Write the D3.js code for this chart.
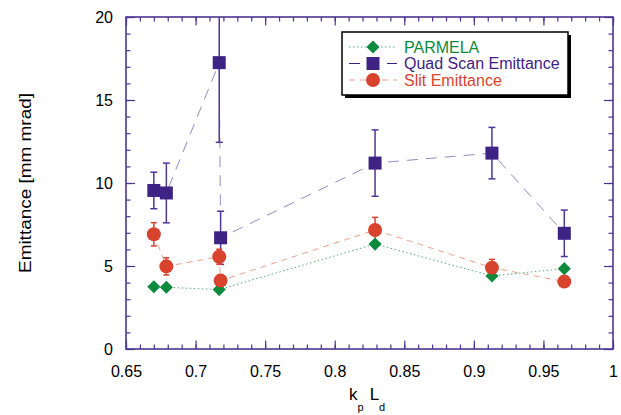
<!DOCTYPE html>
<html>
<head>
<meta charset="utf-8">
<script src="https://cdn.jsdelivr.net/npm/d3@7"></script>
<style>
  body { margin: 0; background: #fff; }
  svg { display: block; font-family: Arial, "Liberation Sans", Helvetica, sans-serif; }
</style>
</head>
<body>
<div id="chart"></div>
<script>
// emittance vs kp*Ld: simulation, quad-scan and slit measurements

const parmelaX = [0.670, 0.679, 0.717, 0.829, 0.913, 0.965];
const parmelaY = [3.75, 3.72, 3.58, 6.32, 4.40, 4.84];

const quadX = [0.670, 0.679, 0.717, 0.718, 0.829, 0.913, 0.965];
const quadY = [9.55, 9.40, 17.25, 6.70, 11.20, 11.80, 6.97];
const quadErr = [1.10, 1.80, 4.80, 1.60, 2.00, 1.55, 1.40];

const slitX = [0.670, 0.679, 0.717, 0.718, 0.829, 0.913, 0.965];
const slitY = [6.91, 4.98, 5.56, 4.12, 7.17, 4.90, 4.06];
const slitErr = [0.70, 0.52, 0.45, 0.35, 0.76, 0.50, 0.20];

const xTicks = [0.65, 0.7, 0.75, 0.8, 0.85, 0.9, 0.95, 1];
const xTickLabels = ["0.65", "0.7", "0.75", "0.8", "0.85", "0.9", "0.95", "1"];
const yTicks = [0, 5, 10, 15, 20];

const legendLabels = ["PARMELA", "Quad Scan Emittance", "Slit Emittance"];

const width = 621;
const height = 415;
const margin = { top: 17, right: 8, bottom: 66, left: 126 };
const plotW = width - margin.left - margin.right;
const plotH = height - margin.top - margin.bottom;

const frameColor = "#4b3590";
const green = "#0e8a3e", greenLine = "#52b07a";
const purple = "#3f2384", purpleLine = "#9589c6";
const red = "#d8432e", redLine = "#f0a090";

const x = d3.scaleLinear().domain([0.65, 1]).range([0, plotW]);
const y = d3.scaleLinear().domain([0, 20]).range([plotH, 0]);

const svg = d3.select("#chart").append("svg")
  .attr("width", width)
  .attr("height", height);

const g = svg.append("g")
  .attr("transform", `translate(${margin.left},${margin.top})`);

g.append("clipPath").attr("id", "plot-clip")
  .append("rect").attr("width", plotW).attr("height", plotH);

// --- axes: inward ticks on all four sides, major + minor ---
const xMinor = d3.range(0.65, 1.0001, 0.01);
const yMinor = d3.range(0, 20.0001, 1);

function styleAxis(sel) {
  sel.select(".domain").remove();
  sel.selectAll(".tick line").attr("stroke", frameColor).attr("stroke-width", 1.2);
  sel.selectAll("text").attr("fill", "#000").style("font-size", "16px");
}

g.append("g").attr("transform", `translate(0,${plotH})`)
  .call(d3.axisBottom(x).tickValues(xMinor).tickSize(-4.5).tickFormat(""))
  .call(styleAxis);
g.append("g").attr("transform", `translate(0,${plotH})`)
  .call(d3.axisBottom(x).tickValues(xTicks).tickSize(-8.5).tickPadding(17)
    .tickFormat((d, i) => xTickLabels[i]))
  .call(styleAxis);
g.append("g")
  .call(d3.axisTop(x).tickValues(xMinor).tickSize(-4.5).tickFormat(""))
  .call(styleAxis);
g.append("g")
  .call(d3.axisTop(x).tickValues(xTicks).tickSize(-8.5).tickFormat(""))
  .call(styleAxis);

g.append("g")
  .call(d3.axisLeft(y).tickValues(yMinor).tickSize(-4.5).tickFormat(""))
  .call(styleAxis);
g.append("g")
  .call(d3.axisLeft(y).tickValues(yTicks).tickSize(-9).tickPadding(13))
  .call(styleAxis);
g.append("g").attr("transform", `translate(${plotW},0)`)
  .call(d3.axisRight(y).tickValues(yMinor).tickSize(-4.5).tickFormat(""))
  .call(styleAxis);
g.append("g").attr("transform", `translate(${plotW},0)`)
  .call(d3.axisRight(y).tickValues(yTicks).tickSize(-9).tickFormat(""))
  .call(styleAxis);

g.append("rect")
  .attr("width", plotW).attr("height", plotH)
  .attr("fill", "none").attr("stroke", frameColor).attr("stroke-width", 1.6);

// --- axis titles ---
svg.append("text")
  .attr("transform", `translate(31,${margin.top + 166}) rotate(-90)`)
  .attr("text-anchor", "middle")
  .attr("textLength", 180).attr("lengthAdjust", "spacingAndGlyphs")
  .style("font-size", "16px")
  .text("Emittance [mm mrad]");

const xt = svg.append("text")
  .attr("x", 349).attr("y", 400)
  .style("font-size", "17px");
xt.append("tspan").text("k");
xt.append("tspan").attr("dy", 11).style("font-size", "11px").text("p");
xt.append("tspan").attr("dx", 6).attr("dy", -11).text("L");
xt.append("tspan").attr("dy", 11).style("font-size", "11px").text("d");

// --- data ---
const plot = g.append("g").attr("clip-path", "url(#plot-clip)");

const line = d3.line().x(d => x(d[0])).y(d => y(d[1]));

const parmela = parmelaX.map((v, i) => [v, parmelaY[i]]);
const quad = quadX.map((v, i) => [v, quadY[i], quadErr[i]]);
const slit = slitX.map((v, i) => [v, slitY[i], slitErr[i]]);

plot.append("path").datum(parmela).attr("d", line)
  .attr("fill", "none").attr("stroke", greenLine).attr("stroke-width", 1)
  .attr("stroke-dasharray", "1.5,2.5");
plot.append("path").datum(quad).attr("d", line)
  .attr("fill", "none").attr("stroke", purpleLine).attr("stroke-width", 1)
  .attr("stroke-dasharray", "11,8");
plot.append("path").datum(slit).attr("d", line)
  .attr("fill", "none").attr("stroke", redLine).attr("stroke-width", 1)
  .attr("stroke-dasharray", "6,5");

function errorBars(data, color, cap) {
  const eb = plot.append("g").attr("stroke", color).attr("stroke-width", 1.5);
  eb.selectAll("line.v").data(data).join("line")
    .attr("x1", d => x(d[0])).attr("x2", d => x(d[0]))
    .attr("y1", d => y(d[1] - d[2])).attr("y2", d => y(d[1] + d[2]));
  [-1, 1].forEach(s => {
    eb.selectAll(null).data(data).join("line")
      .attr("x1", d => x(d[0]) - cap).attr("x2", d => x(d[0]) + cap)
      .attr("y1", d => y(d[1] + s * d[2])).attr("y2", d => y(d[1] + s * d[2]));
  });
}
errorBars(quad, "#4f3796", 3.5);
errorBars(slit, red, 3);

const diamond = d3.symbol().type(d3.symbolSquare).size(86);

function drawDiamond(sel, cx, cy) {
  sel.append("path").attr("d", diamond())
    .attr("transform", `translate(${cx},${cy}) rotate(45)`)
    .attr("fill", green);
}
function drawSquare(sel, cx, cy) {
  sel.append("rect").attr("x", cx - 6.5).attr("y", cy - 6.5)
    .attr("width", 13).attr("height", 13).attr("fill", purple);
}
function drawCircle(sel, cx, cy) {
  sel.append("circle").attr("cx", cx).attr("cy", cy).attr("r", 7).attr("fill", red);
}

const markers = plot.append("g");
parmela.forEach(d => drawDiamond(markers, x(d[0]), y(d[1])));
quad.forEach(d => drawSquare(markers, x(d[0]), y(d[1])));
slit.forEach(d => drawCircle(markers, x(d[0]), y(d[1])));

// --- legend ---
const lg = svg.append("g").attr("transform", "translate(342,32)");
lg.append("rect").attr("x", 3).attr("y", 3).attr("width", 226).attr("height", 63).attr("fill", "#000");
lg.append("rect").attr("width", 226).attr("height", 63)
  .attr("fill", "#fff").attr("stroke", "#000").attr("stroke-width", 1.5);

const legendStyles = [
  { line: greenLine, dash: "1.5,2.5", text: green, draw: drawDiamond },
  { line: purple, dash: "11,8", text: purple, draw: drawSquare },
  { line: redLine, dash: "6,5", text: red, draw: drawCircle }
];

legendLabels.forEach((label, i) => {
  const cy = 15 + i * 16.5;
  const st = legendStyles[i];
  lg.append("line").attr("x1", 7).attr("x2", 55).attr("y1", cy).attr("y2", cy)
    .attr("stroke", st.line).attr("stroke-width", 1.1).attr("stroke-dasharray", st.dash);
  st.draw(lg, 31, cy);
  lg.append("text").attr("x", 62).attr("y", cy + 5.5)
    .attr("fill", st.text).style("font-size", "16px").text(label);
});
</script>
</body>
</html>
